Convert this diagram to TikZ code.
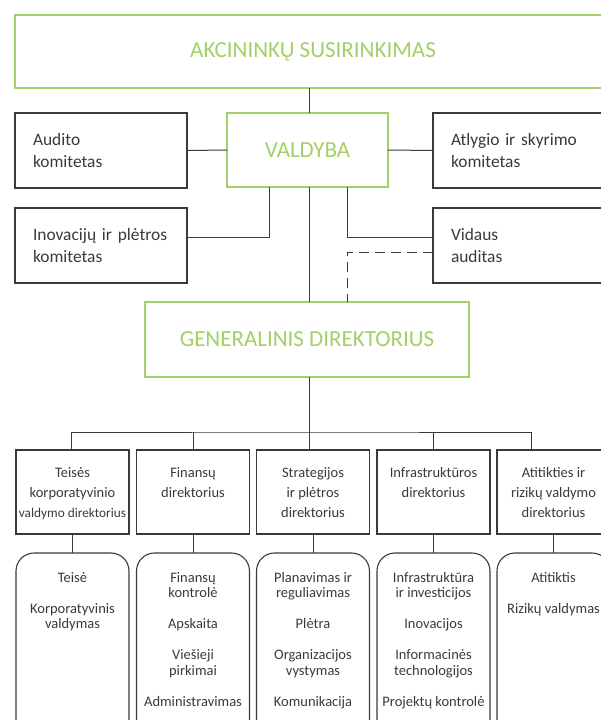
\documentclass[tikz,border=0pt]{standalone}
\usepackage{fontspec}
\setmainfont{Carlito}
\definecolor{grn}{RGB}{163,207,104}
\definecolor{ink}{RGB}{58,58,58}
\begin{document}
\begin{tikzpicture}[x=1pt,y=-1pt,
  greenbox/.style={draw=grn, line width=1.5pt, text=grn, inner sep=0pt, outer sep=0pt, anchor=north west, font=\fontsize{23}{27}\selectfont},
  combox/.style={draw=ink, line width=1.1pt, text=ink, anchor=north west, minimum height=75pt, minimum width=172pt, inner xsep=18pt, inner ysep=0pt, outer sep=0pt, text width=136pt, align=left, font=\fontsize{17.4}{22}\selectfont},
  dirbox/.style={draw=ink, line width=1.1pt, anchor=north west, minimum width=113pt, minimum height=84pt, inner sep=0pt, outer sep=0pt},
  roundbox/.style={draw=ink, line width=1.1pt, rounded corners=18pt, anchor=north west, minimum width=113pt, minimum height=210pt, inner sep=0pt, outer sep=0pt},
  dirtext/.style={anchor=north, align=center, text=ink, inner sep=0pt, font=\fontsize{14.5}{20}\selectfont},
  roundtext/.style={anchor=north, align=center, text=ink, inner sep=0pt, font=\fontsize{14.5}{15.5}\selectfont},
  conn/.style={draw=ink, line width=1pt},
  dashconn/.style={draw=ink, line width=1pt, dash pattern=on 10pt off 6pt}]
\useasboundingbox (0,0) rectangle (601,720);
\clip (0,0) rectangle (601,720);
% top level
\node[greenbox, minimum width=596pt, minimum height=73pt] (akc) at (15,15) {AKCININKŲ SUSIRINKIMAS};
\node[greenbox, minimum width=161pt, minimum height=74pt] (val) at (227,113) {VALDYBA};
\node[combox] (aud) at (15,113) {Audito\\komitetas};
\node[combox] (atl) at (433,113) {Atlygio ir skyrimo\\komitetas};
\node[combox] (inov) at (15,208) {Inovacijų ir plėtros\\komitetas};
\node[combox] (vid) at (433,208) {Vidaus\\auditas};
\node[greenbox, minimum width=324pt, minimum height=75pt] (gd) at (145,302) {GENERALINIS DIREKTORIUS};
% directors
\node[dirbox] (d1) at (16,450) {};
\node[dirbox] (d2) at (136.5,450) {};
\node[dirbox] (d3) at (256.5,450) {};
\node[dirbox] (d4) at (377,450) {};
\node[dirbox] (d5) at (497,450) {};
\node[dirtext] (d1t) at ([yshift=-17pt]d1.north) {Teisės\\korporatyvinio\\{\fontsize{13.3}{20}\selectfont valdymo direktorius}};
\node[dirtext] (d2t) at ([yshift=-17pt]d2.north) {Finansų\\direktorius};
\node[dirtext] (d3t) at ([yshift=-17pt]d3.north) {Strategijos\\ir plėtros\\direktorius};
\node[dirtext] (d4t) at ([yshift=-17pt]d4.north) {Infrastruktūros\\direktorius};
\node[dirtext] (d5t) at ([yshift=-17pt]d5.north) {Atitikties ir\\rizikų valdymo\\direktorius};
% departments
\node[roundbox] (r1) at (16,553) {};
\node[roundbox] (r2) at (136.5,553) {};
\node[roundbox] (r3) at (256.5,553) {};
\node[roundbox] (r4) at (377,553) {};
\node[roundbox] (r5) at (497,553) {};
\node[roundtext] (r1t) at ([yshift=-19pt]r1.north) {Teisė\\[15.5pt]Korporatyvinis\\valdymas};
\node[roundtext] (r2t) at ([yshift=-19pt]r2.north) {Finansų\\kontrolė\\[15.5pt]Apskaita\\[15.5pt]Viešieji\\pirkimai\\[15.5pt]Administravimas};
\node[roundtext] (r3t) at ([yshift=-19pt]r3.north) {Planavimas ir\\reguliavimas\\[15.5pt]Plėtra\\[15.5pt]Organizacijos\\vystymas\\[15.5pt]Komunikacija};
\node[roundtext] (r4t) at ([yshift=-19pt]r4.north) {Infrastruktūra\\ir investicijos\\[15.5pt]Inovacijos\\[15.5pt]Informacinės\\technologijos\\[15.5pt]Projektų kontrolė};
\node[roundtext] (r5t) at ([yshift=-19pt]r5.north) {Atitiktis\\[15.5pt]Rizikų valdymas};
% helper coordinates
\coordinate (trunk) at ([xshift=2pt]val.south);
\coordinate (vl) at ([xshift=-38.5pt]val.south);
\coordinate (vr) at ([xshift=39.5pt]val.south);
\coordinate (bus) at (309.5,432);
\coordinate (d5in) at ([xshift=-22pt]d5.north);
% connectors
\draw[conn] (trunk |- akc.south) -- (trunk |- val.north);
\draw[conn] (aud.east) -- (val.west);
\draw[conn] (val.east) -- (atl.west);
\draw[conn] (vl) |- ([yshift=8.5pt]inov.east);
\draw[conn] (vr) |- ([yshift=8.5pt]vid.west);
\draw[dashconn] ([yshift=-6.5pt]vid.west) -| (vr |- gd.north);
\draw[conn] (trunk) -- (trunk |- gd.north);
\draw[conn] (bus |- gd.south) -- (bus);
\draw[conn] ([xshift=-1.5pt]d1.north) |- (bus) -| (d5in);
\draw[conn] (d2.north) -- (d2.north |- bus);
\draw[conn] (bus) -- (bus |- d3.north);
\draw[conn] (d4.north) -- (d4.north |- bus);
\draw[conn] (d1.south) -- (r1.north);
\draw[conn] (d2.south) -- (r2.north);
\draw[conn] (d3.south) -- (r3.north);
\draw[conn] (d4.south) -- (r4.north);
\draw[conn] (d5.south) -- (r5.north);
\end{tikzpicture}
\end{document}
